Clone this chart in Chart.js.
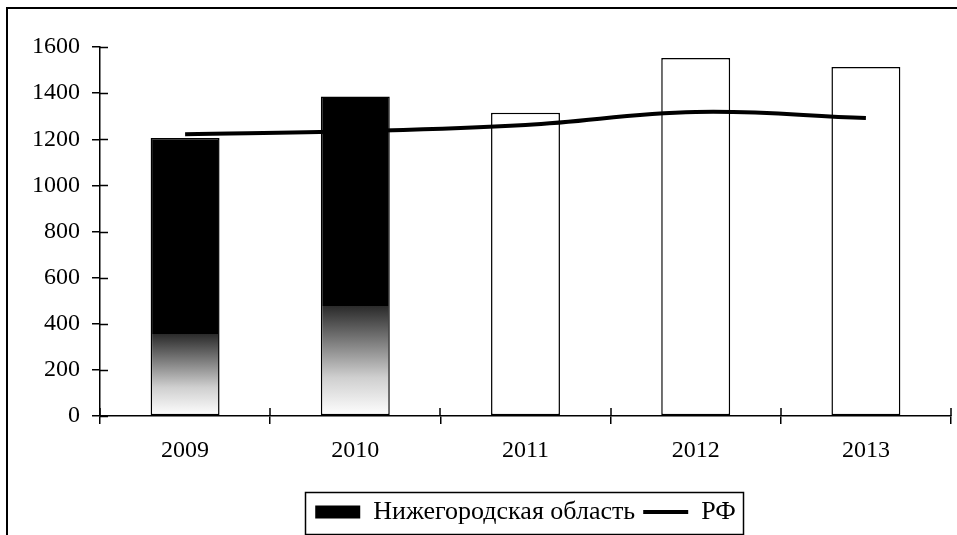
<!DOCTYPE html>
<html>
<head>
<meta charset="utf-8">
<script src="https://cdn.jsdelivr.net/npm/chart.js@4.4.1/dist/chart.umd.min.js"></script>
<style>
    html, body { margin: 0; padding: 0; background: #fff; }
    #wrap { position: relative; width: 957px; height: 535px; }
    #frame { position: absolute; left: 6px; top: 7px; right: 0; bottom: 0;
             border-left: 2px solid #000; border-top: 2px solid #000; }
    #chart { position: absolute; left: 0; top: 0; }
</style>
</head>
<body>
<div id="wrap">
    <div id="frame"></div>
    <canvas id="chart" width="957" height="535"></canvas>
</div>
<script>
// Данные диаграммы
const years = ['2009', '2010', '2011', '2012', '2013'];
const nizhnyValues = [1205, 1385, 1315, 1552, 1513];
const rfValues = [1222, 1235, 1262, 1318, 1292];
const yTicks = [0, 200, 400, 600, 800, 1000, 1200, 1400, 1600];
const seriesNames = ['Нижегородская область', 'РФ'];

// Верх градиентной заливки (в единицах оси) для закрашенных столбцов
const shadeTop = [356, 478, 0, 0, 0];

const SERIF = '"Liberation Serif", "Times New Roman", serif';
const TICK_FONT = { family: SERIF, size: 24 };
const LEGEND_FONT = { family: SERIF, size: 26 };

function barFill(context) {
    const chart = context.chart;
    const i = context.dataIndex;
    if (!chart.chartArea || !chart.scales.y) return '#000';
    if (shadeTop[i] <= 0) return '#fff';
    const y = chart.scales.y;
    const y0 = y.getPixelForValue(0);
    const y1 = y.getPixelForValue(shadeTop[i]);
    const g = chart.ctx.createLinearGradient(0, y0, 0, chart.chartArea.top);
    // градиент снизу, сплошной чёрный выше
    const frac = (y0 - y1) / (y0 - chart.chartArea.top);
    g.addColorStop(0, '#ffffff');
    g.addColorStop(frac * 0.35, '#cfcfcf');
    g.addColorStop(frac * 0.999, '#2a2a2a');
    g.addColorStop(Math.min(1, frac + 0.0001), '#000000');
    g.addColorStop(1, '#000000');
    return g;
}

// Засечки, пересекающие оси (как в Excel)
const crossTicks = {
    id: 'crossTicks',
    afterDraw(chart) {
        const { ctx, scales: { x, y } } = chart;
        const len = 8;
        ctx.save();
        ctx.strokeStyle = '#000';
        ctx.lineWidth = 1.5;
        ctx.beginPath();
        yTicks.forEach(v => {
            const py = Math.round(y.getPixelForValue(v)) + 0.5;
            ctx.moveTo(x.left, py);
            ctx.lineTo(x.left + len, py);
        });
        for (let i = 0; i <= years.length; i++) {
            const px = Math.round(x.getPixelForValue(i - 0.5));
            ctx.moveTo(px, y.bottom);
            ctx.lineTo(px, y.bottom - len);
        }
        ctx.stroke();
        ctx.restore();
    }
};

// Легенда смещена вправо и обведена рамкой
const legendFrame = {
    id: 'legendFrame',
    afterLayout(chart) {
        const lg = chart.legend;
        if (!lg) return;
        lg.left += 50;
        lg.right += 50;
    },
    afterDraw(chart) {
        const lg = chart.legend;
        if (!lg || !lg.lineWidths) return;
        const pad = lg.options.labels.padding;
        const lw = lg.lineWidths[0];
        const start = (lg.left + lg.right + pad - lw) / 2;
        const left = Math.round(start - 10);
        const right = Math.round(start + lw - pad + 7);
        const cy = lg.top + lg.height / 2;
        const ctx = chart.ctx;
        ctx.save();
        ctx.strokeStyle = '#000';
        ctx.lineWidth = 1.5;
        ctx.strokeRect(left + 0.5, Math.round(cy - 21) + 0.5, right - left, 42);
        ctx.restore();
    }
};

const chart = new Chart(document.getElementById('chart').getContext('2d'), {
    type: 'bar',
    data: {
        labels: years,
        datasets: [{
            type: 'line',
            label: seriesNames[1],
            data: rfValues,
            borderColor: '#000',
            borderWidth: 4,
            tension: 0.4,
            pointRadius: 0,
            fill: false,
            order: 0
        }, {
            type: 'bar',
            label: seriesNames[0],
            data: nizhnyValues,
            backgroundColor: barFill,
            borderColor: '#000',
            borderWidth: 1.5,
            borderSkipped: false,
            categoryPercentage: 1,
            barPercentage: 0.405,
            order: 1
        }]
    },
    options: {
        responsive: false,
        animation: false,
        layout: { padding: { top: 47, right: 6, left: 0, bottom: 0 } },
        scales: {
            x: {
                grid: { drawOnChartArea: false, offset: true, color: '#000', lineWidth: 1.5, tickLength: 8 },
                border: { color: '#000', width: 1.5 },
                ticks: { color: '#000', font: TICK_FONT, padding: 12, maxRotation: 0 },
                afterFit(scale) { scale.height = 75; }
            },
            y: {
                min: 0,
                max: 1600,
                afterBuildTicks(scale) { scale.ticks = yTicks.map(v => ({ value: v })); },
                grid: { drawOnChartArea: false, color: '#000', lineWidth: 1.5, tickLength: 8 },
                border: { color: '#000', width: 1.5 },
                ticks: { color: '#000', font: TICK_FONT, padding: 12, callback: v => String(v) },
                afterFit(scale) { scale.width = 100; }
            }
        },
        plugins: {
            tooltip: { enabled: false },
            legend: {
                position: 'bottom',
                labels: {
                    color: '#000',
                    font: LEGEND_FONT,
                    usePointStyle: true,
                    pointStyleWidth: 45,
                    boxHeight: 13,
                    padding: 8,
                    generateLabels() {
                        return [
                            { text: seriesNames[0], fillStyle: '#000', strokeStyle: '#000', lineWidth: 0, pointStyle: 'rect', datasetIndex: 1, fontColor: '#000' },
                            { text: seriesNames[1], fillStyle: '#000', strokeStyle: '#000', lineWidth: 4, pointStyle: 'line', datasetIndex: 0, fontColor: '#000' }
                        ];
                    }
                }
            }
        }
    },
    plugins: [crossTicks, legendFrame]
});
</script>
</body>
</html>
